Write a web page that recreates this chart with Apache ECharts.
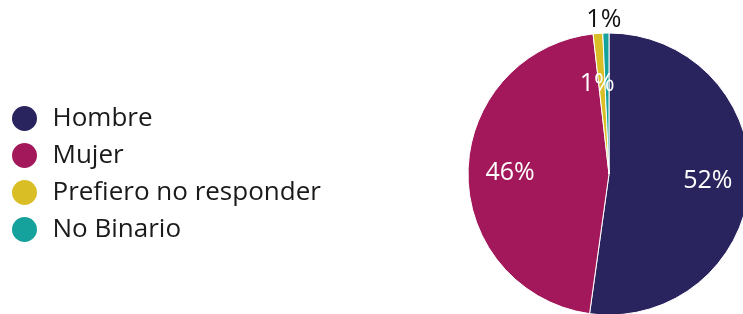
<!DOCTYPE html>
<html>
<head>
<meta charset="utf-8">
<script src="https://cdn.jsdelivr.net/npm/echarts@6/dist/echarts.min.js"></script>
<style>
  html, body { margin: 0; padding: 0; background: #fff; }
  #chart { width: 743px; height: 314px; }
</style>
</head>
<body>
<div id="chart"></div>
<script>
const categories = ['Hombre', 'Mujer', 'Prefiero no responder', 'No Binario']
const values = [52.2, 46.0, 1.1, 0.7]
const colors = ['#29235e', '#a3185a', '#d9be25', '#15a29c']

const chart = echarts.init(document.getElementById('chart'))
const total = values.reduce((a, b) => a + b, 0)
const pct = v => Math.round(v / total * 100) + '%'

const sliceData = categories.map((name, i) => ({
  name,
  value: values[i],
  itemStyle: { color: colors[i] },
}))

// invisible ring used only to place the labels further out than the default inner position
const labelData = categories.map((name, i) => {
  const item = { name, value: values[i], itemStyle: { color: 'transparent' } }
  if (i === 2) item.label = { offset: [-4, 9] }
  if (i === 3) item.label = { color: '#111', offset: [-3, -55] }
  return item
})

chart.setOption({
  animation: false,
  legend: {
    orient: 'vertical',
    left: 10,
    top: 104,
    padding: 0,
    icon: 'circle',
    itemWidth: 28,
    itemHeight: 27,
    itemGap: 8,
    data: categories,
    textStyle: {
      fontFamily: 'Open Sans',
      fontSize: 26,
      lineHeight: 26,
      color: '#1a1a1a',
      padding: [0, 0, 0, 9],
    },
  },
  series: [
    {
      type: 'pie',
      center: [609, 174],
      radius: 141,
      startAngle: 90,
      clockwise: true,
      silent: true,
      data: sliceData,
      itemStyle: { borderColor: '#fff', borderWidth: 1 },
      label: { show: false },
      labelLine: { show: false },
    },
    {
      type: 'pie',
      center: [609, 174],
      radius: 192,
      startAngle: 90,
      clockwise: true,
      silent: true,
      legendHoverLink: false,
      data: labelData,
      label: {
        show: true,
        position: 'inner',
        formatter: p => pct(p.value),
        color: '#fff',
        fontFamily: 'Open Sans',
        fontSize: 25,
      },
      labelLine: { show: false },
    },
  ],
})
</script>
</body>
</html>
